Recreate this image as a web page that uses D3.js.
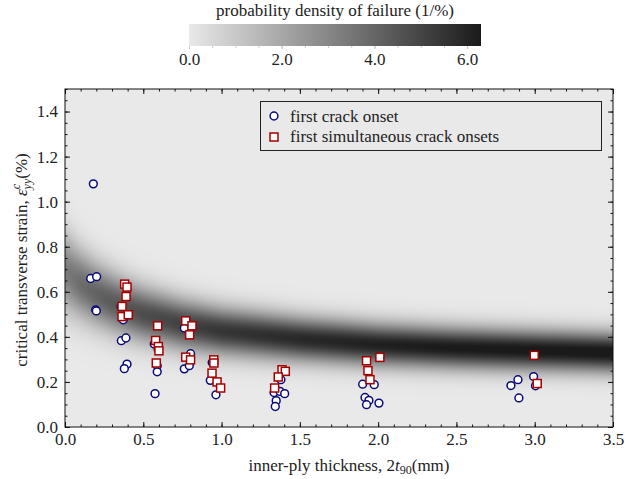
<!DOCTYPE html>
<html>
<head>
<meta charset="utf-8">
<script src="https://cdn.jsdelivr.net/npm/d3@7/dist/d3.min.js"></script>
<style>
  body { margin: 0; background: #fff; }
  text { font-family: "Liberation Serif", "DejaVu Serif", serif; fill: #222; }
</style>
</head>
<body>
<div class="canvas"></div>
<script>
// first crack onset (circles)
const crackThickness = [0.181, 0.164, 0.202, 0.196, 0.200, 0.358, 0.372, 0.360, 0.389, 0.396, 0.379,
  0.570, 0.589, 0.589, 0.575, 0.762, 0.802, 0.762, 0.794, 0.940, 0.928, 0.964,
  1.379, 1.335, 1.373, 1.403, 1.349, 1.343, 1.901, 1.975, 1.916, 1.941, 1.926, 2.005,
  2.993, 3.005, 2.893, 2.848, 2.899]
const crackStrain = [1.079, 0.659, 0.667, 0.520, 0.515, 0.535, 0.476, 0.383, 0.395, 0.279, 0.259,
  0.368, 0.272, 0.245, 0.148, 0.439, 0.325, 0.258, 0.272, 0.286, 0.207, 0.143,
  0.210, 0.153, 0.158, 0.148, 0.117, 0.091, 0.190, 0.188, 0.131, 0.118, 0.099, 0.106,
  0.224, 0.183, 0.210, 0.184, 0.129]

// first simultaneous crack onsets (squares)
const simThickness = [0.381, 0.396, 0.390, 0.364, 0.364, 0.404, 0.592, 0.579, 0.596, 0.600, 0.583,
  0.771, 0.811, 0.796, 0.771, 0.802, 0.950, 0.951, 0.939, 0.971, 0.994,
  1.386, 1.407, 1.362, 1.339, 2.011, 1.926, 1.935, 1.948, 2.997, 3.016]
const simStrain = [0.634, 0.621, 0.579, 0.535, 0.490, 0.498, 0.449, 0.384, 0.357, 0.338, 0.284,
  0.471, 0.449, 0.409, 0.310, 0.298, 0.298, 0.284, 0.239, 0.200, 0.173,
  0.254, 0.247, 0.222, 0.173, 0.309, 0.294, 0.250, 0.210, 0.318, 0.193]

// failure band: mean and spread of critical strain vs thickness
const bandThickness = [0, 0.1, 0.2, 0.3, 0.4, 0.5, 0.75, 1.0, 1.5, 2.0, 2.5, 3.0, 3.5]
const bandMean = [0.69, 0.635, 0.59, 0.555, 0.525, 0.50, 0.455, 0.425, 0.39, 0.365, 0.35, 0.34, 0.33]
const bandSd = [0.12, 0.105, 0.097, 0.092, 0.088, 0.084, 0.078, 0.073, 0.068, 0.065, 0.063, 0.062, 0.061]

const xTicks = [0, 0.5, 1.0, 1.5, 2.0, 2.5, 3.0, 3.5]
const yTicks = [0, 0.2, 0.4, 0.6, 0.8, 1.0, 1.2, 1.4]
const cbarTicks = [0, 2, 4, 6]
const cbarMax = 6.3

const fs = 17
const margin = {top: 89, right: 25, bottom: 52, left: 65}
const graphWidth = 638 - margin.left - margin.right
const graphHeight = 479 - margin.top - margin.bottom

const svg = d3.select('.canvas')
  .append('svg')
  .attr('width', 638)
  .attr('height', 479)

//scales
const xScale = d3.scaleLinear().domain([0, 3.5]).range([0, graphWidth])
const yScale = d3.scaleLinear().domain([0, 1.5]).range([graphHeight, 0])
const meanScale = d3.scaleLinear().domain(bandThickness).range(bandMean).clamp(true)
const sdScale = d3.scaleLinear().domain(bandThickness).range(bandSd).clamp(true)
const colour = d3.scaleLinear().domain([0, cbarMax]).range(['#e9e9e9', '#1a1a1a']).clamp(true)

const graph = svg.append('g')
  .attr('transform', `translate(${margin.left}, ${margin.top})`)

// density field painted into a canvas, then put in as an image
const cv = document.createElement('canvas')
cv.width = graphWidth
cv.height = graphHeight
const ctx = cv.getContext('2d')
const img = ctx.createImageData(graphWidth, graphHeight)
for (let i = 0; i < graphWidth; i++) {
  const t = xScale.invert(i + 0.5)
  const m = meanScale(t), s = sdScale(t)
  for (let j = 0; j < graphHeight; j++) {
    const e = yScale.invert(j + 0.5)
    const z = (e - m) / s
    const pdf = Math.exp(-0.5 * z * z) / (s * Math.sqrt(2 * Math.PI))
    const c = d3.rgb(colour(pdf))
    const k = (j * graphWidth + i) * 4
    img.data[k] = c.r; img.data[k + 1] = c.g; img.data[k + 2] = c.b; img.data[k + 3] = 255
  }
}
ctx.putImageData(img, 0, 0)
graph.append('image')
  .attr('width', graphWidth)
  .attr('height', graphHeight)
  .attr('preserveAspectRatio', 'none')
  .attr('href', cv.toDataURL())

//axes
const minorX = d3.range(0, 3.501, 0.1)
const minorY = d3.range(0, 1.501, 0.05)

const addAxis = (axis, transform) => {
  const g = graph.append('g').attr('transform', transform).call(axis)
  g.select('.domain').remove()
  g.selectAll('line').attr('stroke', '#111')
  g.selectAll('text').attr('font-size', fs).attr('fill', '#222')
  return g
}

addAxis(d3.axisBottom(xScale).tickValues(xTicks).tickSizeInner(-5).tickSizeOuter(0).tickPadding(6).tickFormat(d3.format('.1f')), `translate(0, ${graphHeight})`)
addAxis(d3.axisBottom(xScale).tickValues(minorX).tickSizeInner(-2.5).tickSizeOuter(0).tickFormat(''), `translate(0, ${graphHeight})`)
addAxis(d3.axisTop(xScale).tickValues(xTicks).tickSizeInner(-5).tickSizeOuter(0).tickFormat(''), 'translate(0, 0)')
addAxis(d3.axisTop(xScale).tickValues(minorX).tickSizeInner(-2.5).tickSizeOuter(0).tickFormat(''), 'translate(0, 0)')
addAxis(d3.axisLeft(yScale).tickValues(yTicks).tickSizeInner(-5).tickSizeOuter(0).tickPadding(7).tickFormat(d3.format('.1f')), 'translate(0, 0)')
addAxis(d3.axisLeft(yScale).tickValues(minorY).tickSizeInner(-2.5).tickSizeOuter(0).tickFormat(''), 'translate(0, 0)')
addAxis(d3.axisRight(yScale).tickValues(yTicks).tickSizeInner(-5).tickSizeOuter(0).tickFormat(''), `translate(${graphWidth}, 0)`)
addAxis(d3.axisRight(yScale).tickValues(minorY).tickSizeInner(-2.5).tickSizeOuter(0).tickFormat(''), `translate(${graphWidth}, 0)`)

graph.append('rect')
  .attr('width', graphWidth)
  .attr('height', graphHeight)
  .attr('fill', 'none')
  .attr('stroke', '#111')
  .attr('stroke-width', 1)

// markers: circles first, squares on top
graph.selectAll('circle.crack')
  .data(crackThickness)
  .enter()
  .append('circle')
  .attr('class', 'crack')
  .attr('cx', (d, i) => xScale(d))
  .attr('cy', (d, i) => yScale(crackStrain[i]))
  .attr('r', 3.9)
  .attr('fill', '#fff')
  .attr('stroke', '#0a0a78')
  .attr('stroke-width', 1.5)

graph.selectAll('rect.sim')
  .data(simThickness)
  .enter()
  .append('rect')
  .attr('class', 'sim')
  .attr('x', (d, i) => xScale(d) - 4)
  .attr('y', (d, i) => yScale(simStrain[i]) - 4)
  .attr('width', 8)
  .attr('height', 8)
  .attr('fill', '#fff')
  .attr('stroke', '#a50000')
  .attr('stroke-width', 1.5)

// legend
const legend = svg.append('g').attr('transform', 'translate(260.5, 101.5)')
legend.append('rect')
  .attr('width', 341)
  .attr('height', 49)
  .attr('fill', '#e9e9e9')
  .attr('stroke', '#222')
legend.append('circle')
  .attr('cx', 13.5).attr('cy', 14.5).attr('r', 3.9)
  .attr('fill', '#fff').attr('stroke', '#0a0a78').attr('stroke-width', 1.5)
legend.append('rect')
  .attr('x', 9.5).attr('y', 31.5).attr('width', 8).attr('height', 8)
  .attr('fill', '#fff').attr('stroke', '#a50000').attr('stroke-width', 1.5)
legend.append('text').attr('x', 29.5).attr('y', 20).attr('font-size', fs).text('first crack onset')
legend.append('text').attr('x', 29.5).attr('y', 40.5).attr('font-size', fs).text('first simultaneous crack onsets')

// axis titles
const xLabel = svg.append('text')
  .attr('x', 349).attr('y', 471)
  .attr('text-anchor', 'middle')
  .attr('font-size', fs)
xLabel.append('tspan').text('inner-ply thickness, 2')
xLabel.append('tspan').attr('font-style', 'italic').text('t')
xLabel.append('tspan').attr('font-size', 12).attr('dy', 3).text('90')
xLabel.append('tspan').attr('dy', -3).text('(mm)')

const yLabel = svg.append('text')
  .attr('transform', 'translate(27, 260) rotate(-90)')
  .attr('text-anchor', 'middle')
  .attr('font-size', fs)
yLabel.append('tspan').text('critical transverse strain, ')
yLabel.append('tspan').attr('font-style', 'italic').text('ε')
yLabel.append('tspan').attr('font-style', 'italic').attr('font-size', 12).attr('dy', -7).text('c')
yLabel.append('tspan').attr('font-style', 'italic').attr('font-size', 12).attr('dx', -5.5).attr('dy', 11).text('yy')
yLabel.append('tspan').attr('dy', -4).text('(%)')

// colour bar
const cbX = 189, cbY = 24, cbW = 292, cbH = 22
const cbScale = d3.scaleLinear().domain([0, cbarMax]).range([0, cbW])
const grad = svg.append('defs').append('linearGradient').attr('id', 'cbgrad')
grad.selectAll('stop')
  .data(d3.range(0, 1.0001, 0.1))
  .enter()
  .append('stop')
  .attr('offset', d => d)
  .attr('stop-color', d => colour(d * cbarMax))

const cbar = svg.append('g').attr('transform', `translate(${cbX}, ${cbY})`)
cbar.append('rect').attr('width', cbW).attr('height', cbH).attr('fill', 'url(#cbgrad)')
const cbAxis = cbar.append('g').attr('transform', `translate(0, ${cbH})`)
  .call(d3.axisBottom(cbScale).tickValues(cbarTicks).tickSizeInner(3).tickSizeOuter(0).tickPadding(4).tickFormat(d3.format('.1f')))
cbAxis.select('.domain').remove()
cbAxis.selectAll('line').attr('stroke', '#bbb')
cbAxis.selectAll('text').attr('font-size', fs).attr('fill', '#222')
const cbMinor = cbar.append('g').attr('transform', `translate(0, ${cbH})`)
  .call(d3.axisBottom(cbScale).tickValues(d3.range(0, 6.01, 0.5)).tickSizeInner(2).tickSizeOuter(0).tickFormat(''))
cbMinor.select('.domain').remove()
cbMinor.selectAll('line').attr('stroke', '#ccc')

svg.append('text')
  .attr('x', cbX + cbW / 2).attr('y', 16)
  .attr('text-anchor', 'middle')
  .attr('font-size', fs)
  .text('probability density of failure (1/%)')
</script>
</body>
</html>
